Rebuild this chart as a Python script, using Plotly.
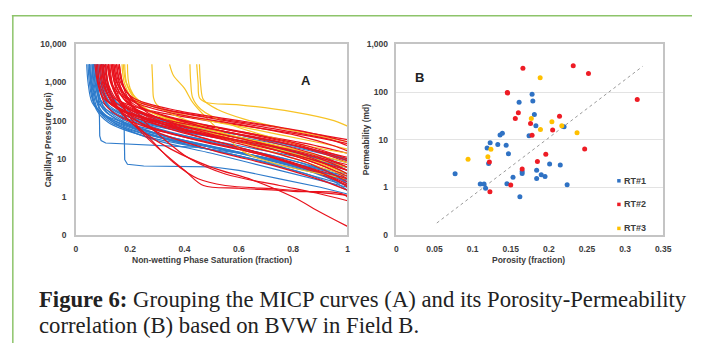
import plotly.graph_objects as go

W, H = 701, 348

# ---------------- Panel A: MICP curves, (saturation, capillary pressure psi) ----------------
rt1_curves = [
    [(0.04, 3000), (0.045, 1000), (0.06, 300), (0.1, 150), (0.2, 80), (0.4, 40), (0.6, 22), (0.8, 12), (1.0, 6)],
    [(0.045, 3000), (0.05, 1000), (0.065, 300), (0.11, 130), (0.2, 70), (0.4, 30), (0.6, 15), (0.8, 7), (1.0, 3)],
    [(0.05, 3000), (0.055, 900), (0.07, 250), (0.12, 110), (0.2, 60), (0.4, 25), (0.6, 12), (0.8, 5), (1.0, 2)],
    [(0.05, 3000), (0.06, 800), (0.08, 200), (0.13, 90), (0.25, 45), (0.5, 20), (0.75, 9), (1.0, 3.5)],
    [(0.055, 3000), (0.06, 1000), (0.08, 300), (0.14, 150), (0.3, 70), (0.5, 40), (0.75, 20), (1.0, 8)],
    [(0.06, 3000), (0.07, 700), (0.09, 200), (0.15, 80), (0.3, 30), (0.5, 14), (0.75, 5), (1.0, 1.8)],
    [(0.065, 3000), (0.07, 1000), (0.09, 350), (0.15, 170), (0.3, 80), (0.55, 35), (0.8, 15), (1.0, 6)],
    [(0.07, 3000), (0.08, 800), (0.1, 250), (0.17, 100), (0.3, 45), (0.55, 18), (0.8, 7), (1.0, 2.5)],
    [(0.07, 3000), (0.08, 600), (0.11, 180), (0.2, 70), (0.35, 30), (0.6, 12), (0.85, 4), (1.0, 1.5)],
    [(0.075, 3000), (0.085, 900), (0.11, 300), (0.2, 120), (0.4, 50), (0.65, 25), (0.85, 12), (1.0, 5)],
    [(0.08, 3000), (0.09, 700), (0.12, 220), (0.22, 90), (0.4, 38), (0.65, 16), (0.85, 7), (1.0, 3)],
    [(0.085, 3000), (0.1, 600), (0.13, 180), (0.25, 60), (0.45, 25), (0.7, 10), (0.9, 4), (1.0, 1.5)],
    [(0.09, 3000), (0.1, 800), (0.13, 280), (0.25, 110), (0.45, 55), (0.7, 28), (0.9, 14), (1.0, 9)],
    [(0.06, 3000), (0.065, 800), (0.085, 220), (0.14, 100), (0.3, 40), (0.5, 20), (0.75, 9), (1.0, 4)],
    [(0.095, 3000), (0.11, 700), (0.15, 200), (0.28, 70), (0.5, 28), (0.75, 11), (0.92, 5), (1.0, 2.2)],
    [(0.1, 3000), (0.11, 900), (0.15, 300), (0.3, 110), (0.55, 50), (0.8, 22), (0.95, 12), (1.0, 9)],
    [(0.05, 3000), (0.058, 700), (0.075, 200), (0.12, 90), (0.25, 40), (0.5, 17), (0.75, 7), (1.0, 2.8)],
    [(0.08, 3000), (0.09, 1000), (0.12, 320), (0.22, 140), (0.45, 65), (0.7, 32), (0.9, 15), (1.0, 10)],
    [(0.065, 3000), (0.075, 700), (0.1, 200), (0.18, 85), (0.35, 35), (0.6, 14), (0.85, 5), (1.0, 2)],
    [(0.11, 3000), (0.12, 800), (0.16, 250), (0.3, 90), (0.55, 35), (0.8, 14), (0.95, 6), (1.0, 4)],
]
# two samples with a sharp entry step (drawn without smoothing)
rt1_step_curves = [
    [(0.075, 3000), (0.08, 900), (0.084, 250), (0.087, 120), (0.088, 40), (0.093, 30),
     (0.11, 26), (0.3, 23), (0.45, 20), (0.6, 14), (0.75, 8), (0.9, 4.5), (1.0, 3)],
    [(0.1, 3000), (0.11, 900), (0.14, 300), (0.17, 150), (0.178, 60), (0.18, 9.5),
     (0.19, 7.2), (0.25, 6.5), (0.5, 6.2), (0.6, 5), (0.75, 3), (0.9, 1.8), (1.0, 1.2)],
]

rt2_curves = [
    [(0.07, 3000), (0.08, 1000), (0.1, 400), (0.18, 180), (0.35, 80), (0.6, 35), (0.8, 16), (1.0, 7)],
    [(0.08, 3000), (0.09, 800), (0.12, 300), (0.2, 150), (0.4, 70), (0.65, 30), (0.85, 14), (1.0, 6)],
    [(0.09, 3000), (0.1, 900), (0.13, 350), (0.22, 170), (0.4, 90), (0.65, 45), (0.85, 25), (1.0, 14)],
    [(0.095, 3000), (0.11, 700), (0.14, 250), (0.25, 100), (0.45, 45), (0.7, 20), (0.9, 8), (1.0, 4)],
    [(0.1, 3000), (0.11, 1000), (0.14, 400), (0.25, 200), (0.45, 110), (0.7, 60), (0.9, 35), (1.0, 25)],
    [(0.1, 3000), (0.115, 700), (0.15, 220), (0.25, 80), (0.45, 30), (0.7, 12), (0.9, 4), (1.0, 2)],
    [(0.105, 3000), (0.12, 700), (0.16, 200), (0.22, 70), (0.3, 20), (0.4, 5), (0.47, 2), (0.6, 1.7), (0.8, 1.4), (1.0, 1.0), (1.0, 0.1)],
    [(0.11, 3000), (0.125, 600), (0.17, 150), (0.25, 50), (0.35, 18), (0.5, 6), (0.65, 2.8), (0.8, 1.0), (0.9, 0.4), (1.0, 0.17)],
    [(0.115, 3000), (0.13, 900), (0.17, 300), (0.3, 120), (0.5, 60), (0.75, 28), (0.92, 13), (1.0, 8)],
    [(0.12, 3000), (0.135, 800), (0.18, 250), (0.3, 90), (0.5, 40), (0.75, 16), (0.92, 6), (1.0, 3)],
    [(0.12, 3000), (0.13, 1000), (0.17, 450), (0.3, 220), (0.5, 120), (0.75, 65), (0.92, 40), (1.0, 32)],
    [(0.125, 3000), (0.14, 700), (0.19, 200), (0.32, 70), (0.55, 25), (0.8, 8), (0.95, 3), (1.0, 1.8)],
    [(0.13, 3000), (0.145, 900), (0.19, 300), (0.33, 130), (0.55, 60), (0.8, 25), (0.95, 12), (1.0, 9)],
    [(0.13, 3000), (0.15, 600), (0.2, 120), (0.28, 30), (0.36, 8), (0.45, 3), (0.55, 2), (0.75, 1.6), (0.9, 1.3), (1.0, 1.1)],
    [(0.135, 3000), (0.15, 800), (0.2, 250), (0.35, 90), (0.6, 35), (0.82, 14), (0.95, 6), (1.0, 4)],
    [(0.14, 3000), (0.155, 900), (0.2, 350), (0.35, 160), (0.6, 80), (0.82, 40), (0.95, 22), (1.0, 16)],
    [(0.14, 3000), (0.16, 700), (0.22, 200), (0.38, 65), (0.6, 25), (0.85, 8), (1.0, 2.5)],
    [(0.145, 3000), (0.16, 900), (0.21, 280), (0.38, 110), (0.62, 50), (0.85, 22), (1.0, 10)],
    [(0.15, 3000), (0.17, 600), (0.24, 160), (0.4, 50), (0.65, 16), (0.88, 5), (1.0, 2.2)],
    [(0.15, 3000), (0.165, 1000), (0.21, 400), (0.38, 180), (0.62, 95), (0.85, 50), (1.0, 28)],
    [(0.155, 3000), (0.175, 800), (0.24, 230), (0.42, 85), (0.68, 32), (0.9, 12), (1.0, 6)],
    [(0.16, 3000), (0.18, 700), (0.26, 170), (0.45, 55), (0.7, 20), (0.9, 7), (1.0, 3.5)],
    [(0.095, 3000), (0.105, 800), (0.14, 280), (0.24, 120), (0.42, 55), (0.68, 24), (0.9, 10), (1.0, 5)],
    [(0.16, 3000), (0.18, 600), (0.24, 120), (0.32, 35), (0.42, 10), (0.55, 4), (0.75, 2), (0.9, 1.2), (1.0, 0.8)],
    [(0.085, 3000), (0.095, 900), (0.12, 320), (0.2, 150), (0.38, 65), (0.6, 28), (0.82, 12), (1.0, 5)],
    [(0.11, 3000), (0.12, 900), (0.16, 300), (0.28, 130), (0.48, 65), (0.72, 30), (0.9, 16), (1.0, 11)],
    [(0.075, 3000), (0.085, 800), (0.11, 250), (0.18, 110), (0.35, 45), (0.6, 18), (0.82, 7), (1.0, 3)],
    [(0.12, 3000), (0.14, 600), (0.19, 160), (0.3, 50), (0.5, 17), (0.75, 6), (0.92, 2.5), (1.0, 1.5)],
    [(0.135, 3000), (0.15, 1000), (0.19, 420), (0.32, 200), (0.55, 100), (0.8, 50), (0.95, 30), (1.0, 22)],
]

rt3_curves = [
    [(0.17, 3000), (0.18, 900), (0.22, 300), (0.35, 110), (0.55, 45), (0.8, 18), (1.0, 8)],
    [(0.18, 3000), (0.19, 800), (0.24, 250), (0.4, 80), (0.6, 30), (0.85, 10), (1.0, 4)],
    [(0.19, 3000), (0.2, 700), (0.26, 200), (0.42, 65), (0.65, 22), (0.85, 8), (1.0, 3.5)],
    [(0.175, 3000), (0.185, 1000), (0.23, 350), (0.4, 140), (0.65, 60), (0.88, 28), (1.0, 18)],
    [(0.28, 3000), (0.283, 1000), (0.286, 400), (0.295, 280), (0.33, 180), (0.45, 80), (0.6, 35), (0.8, 14), (1.0, 6)],
    [(0.345, 3000), (0.36, 1500), (0.4, 700), (0.43, 300), (0.48, 120), (0.55, 40), (0.62, 15), (0.75, 7), (1.0, 3)],
    [(0.42, 3000), (0.423, 1000), (0.43, 400), (0.46, 200), (0.55, 90), (0.7, 40), (0.85, 22), (1.0, 14)],
    [(0.445, 3000), (0.45, 1000), (0.455, 400), (0.48, 300), (0.6, 260), (0.8, 170), (0.95, 100), (1.0, 72)],
    [(0.455, 3000), (0.46, 800), (0.47, 350), (0.52, 200), (0.62, 110), (0.8, 55), (1.0, 28)],
]

# ---------------- Panel B: porosity-permeability samples ----------------
rt1_phi = [0.077, 0.110, 0.115, 0.117, 0.119, 0.121, 0.123, 0.133, 0.136, 0.139, 0.144,
           0.145, 0.147, 0.153, 0.161, 0.162, 0.165, 0.165, 0.178, 0.179, 0.181, 0.183,
           0.174, 0.184, 0.184, 0.190, 0.195, 0.201, 0.215, 0.220, 0.224]
rt1_k = [1.94, 1.18, 1.18, 0.96, 6.7, 3.2, 8.7, 8.0, 12.6, 13.7, 7.7,
         1.2, 5.1, 1.64, 61, 0.64, 2.17, 1.97, 90, 65, 34, 19.6,
         12.2, 2.3, 1.54, 1.85, 1.7, 3.1, 2.96, 18.7, 1.14]

rt2_phi = [0.166, 0.1455, 0.146, 0.160, 0.156, 0.176, 0.178, 0.122, 0.1227, 0.150,
           0.165, 0.185, 0.196, 0.205, 0.214, 0.232, 0.252, 0.247, 0.316]
rt2_k = [315, 98, 95, 37, 28, 22, 12.4, 3.4, 0.81, 1.13,
         2.45, 3.5, 5.0, 16, 31, 357, 245, 6.4, 70]

rt3_phi = [0.1886, 0.177, 0.189, 0.204, 0.217, 0.237, 0.094, 0.120, 0.124]
rt3_k = [200, 28, 16.5, 24, 19.6, 14, 3.9, 4.4, 6.3]

trend_phi = [0.053, 0.323]
trend_k = [0.18, 345]

rt_names = ["RT#1", "RT#2", "RT#3"]
rt_colors = ["#2f72c4", "#ee1c25", "#ffc000"]
curve_colors = ["#2e7bcb", "#e8121c", "#f7c325"]

sat_ticks = [0, 0.2, 0.4, 0.6, 0.8, 1]
sat_labels = ["0", "0.2", "0.4", "0.6", "0.8", "1"]
pc_ticks = [0.1, 1, 10, 100, 1000, 10000]
pc_labels = ["0", "1", "10", "100", "1,000", "10,000"]
phi_ticks = [0, 0.05, 0.1, 0.15, 0.2, 0.25, 0.3, 0.35]
phi_labels = ["0", "0.05", "0.1", "0.15", "0.2", "0.25", "0.3", "0.35"]
k_ticks = [0.1, 1, 10, 100, 1000]
k_labels = ["0", "1", "10", "100", "1,000"]

caption_lines = [
    "<b>Figure 6:</b> Grouping the MICP curves (A) and its Porosity-Permeability",
    "correlation (B) based on BVW in Field B.",
]

fig = go.Figure()


def add_curve(pts, color, smooth=True):
    fig.add_trace(go.Scatter(
        x=[p[0] for p in pts], y=[p[1] for p in pts], mode="lines",
        xaxis="x", yaxis="y", showlegend=False, hoverinfo="skip",
        line=dict(color=color, width=1.2, shape="spline" if smooth else "linear",
                  smoothing=0.9),
    ))


for c in rt1_curves:
    add_curve(c, curve_colors[0])
for c in rt1_step_curves:
    add_curve(c, curve_colors[0], smooth=False)
half = len(rt2_curves) // 2
for c in rt2_curves[:half]:
    add_curve(c, curve_colors[1])
for c in rt3_curves:
    add_curve(c, curve_colors[2])
for c in rt2_curves[half:]:
    add_curve(c, curve_colors[1])

# Panel B trend line and samples
fig.add_trace(go.Scatter(
    x=trend_phi, y=trend_k, mode="lines", xaxis="x2", yaxis="y2", showlegend=False,
    line=dict(color="#9a9a9a", width=1, dash="dot"), hoverinfo="skip",
))
for phi, k, name, col in zip([rt1_phi, rt2_phi, rt3_phi], [rt1_k, rt2_k, rt3_k],
                             rt_names, rt_colors):
    fig.add_trace(go.Scatter(
        x=phi, y=k, mode="markers", name=name, xaxis="x2", yaxis="y2",
        showlegend=False, marker=dict(color=col, size=5, line=dict(width=0)),
    ))


def px_x(v):
    return v / W


def px_y(v):
    return 1 - v / H


tick_font = dict(family="Liberation Sans, Arial, sans-serif", size=8.5, color="#3c3c3c",
                 weight="bold")
frame = dict(showline=True, mirror=True, linecolor="#c4c4c4", linewidth=1.5,
             ticks="", zeroline=False)

fig.update_layout(
    width=W, height=H, margin=dict(l=0, r=0, t=0, b=0),
    paper_bgcolor="white", plot_bgcolor="white", showlegend=False,
    xaxis=dict(domain=[px_x(75), px_x(351)], range=[0, 1], tickvals=sat_ticks,
               ticktext=sat_labels, showgrid=False,
               tickfont=tick_font, ticklabelstandoff=5, **frame),
    yaxis=dict(domain=[px_y(237), px_y(40.5)], type="log", range=[-1, 4],
               tickvals=pc_ticks, ticktext=pc_labels, showgrid=False,
               tickfont=tick_font, ticklabelstandoff=6, **frame),
    xaxis2=dict(domain=[px_x(400.7), px_x(671.7)], range=[0, 0.35], tickvals=phi_ticks,
                ticktext=phi_labels, showgrid=False, anchor="y2",
                tickfont=tick_font, ticklabelstandoff=5, **frame),
    yaxis2=dict(domain=[px_y(237), px_y(40.5)], type="log", range=[-1, 3],
                tickvals=k_ticks, ticktext=k_labels, showgrid=True,
                gridcolor="#e3e3e3", gridwidth=1, anchor="x2",
                tickfont=tick_font, ticklabelstandoff=5, **frame),
)

title_font = dict(family="Liberation Sans, Arial, sans-serif", size=8.5, color="#3c3c3c",
                  weight="bold")
panel_font = dict(family="Liberation Sans, Arial, sans-serif", size=13, color="#222222")
annotations = [
    dict(text="Non-wetting Phase Saturation (fraction)", x=px_x(213), y=px_y(263),
         font=title_font),
    dict(text="Capillary Pressure (psi)", x=px_x(47), y=px_y(139), textangle=-90,
         font=title_font),
    dict(text="Porosity (fraction)", x=px_x(535), y=px_y(263), font=title_font),
    dict(text="Permeability (md)", x=px_x(370), y=px_y(139), textangle=-90,
         font=title_font),
    dict(text="<b>A</b>", x=px_x(309), y=px_y(78), font=panel_font),
    dict(text="<b>B</b>", x=px_x(424), y=px_y(75), font=panel_font),
]

# legend keys for the rock types
legend_rows = [181, 205.3, 230]
shapes = []
for name, col, yy in zip(rt_names, rt_colors, legend_rows):
    annotations.append(dict(text=name, x=px_x(629.5), y=px_y(yy), xanchor="left",
                            font=dict(family="Liberation Sans, Arial, sans-serif",
                                      size=9, color="#3c3c3c", weight="bold")))
    shapes.append(dict(type="rect", xref="paper", yref="paper",
                       x0=px_x(625), x1=px_x(628.5), y0=px_y(yy + 1.8), y1=px_y(yy - 1.8),
                       fillcolor=col, line=dict(width=0)))

# caption, one annotation per line
for line, yy in zip(caption_lines, [303.5, 329.5]):
    annotations.append(dict(
        text=line, x=px_x(36), y=px_y(yy), xanchor="left", yanchor="middle", align="left",
        font=dict(family="Liberation Serif, Times New Roman, serif", size=22.7,
                  color="#222222"),
    ))
for a in annotations:
    a.update(xref="paper", yref="paper", showarrow=False)
    a.setdefault("xanchor", "center")
    a.setdefault("yanchor", "middle")

# green page frame
shapes += [
    dict(type="line", xref="paper", yref="paper", x0=px_x(10), x1=1, y0=px_y(11), y1=px_y(11),
         line=dict(color="#8dc46a", width=1.5)),
    dict(type="line", xref="paper", yref="paper", x0=px_x(11), x1=px_x(11), y0=px_y(11), y1=0,
         line=dict(color="#8dc46a", width=1.5)),
]

fig.update_layout(annotations=annotations, shapes=shapes)
fig.write_html("out.html")
